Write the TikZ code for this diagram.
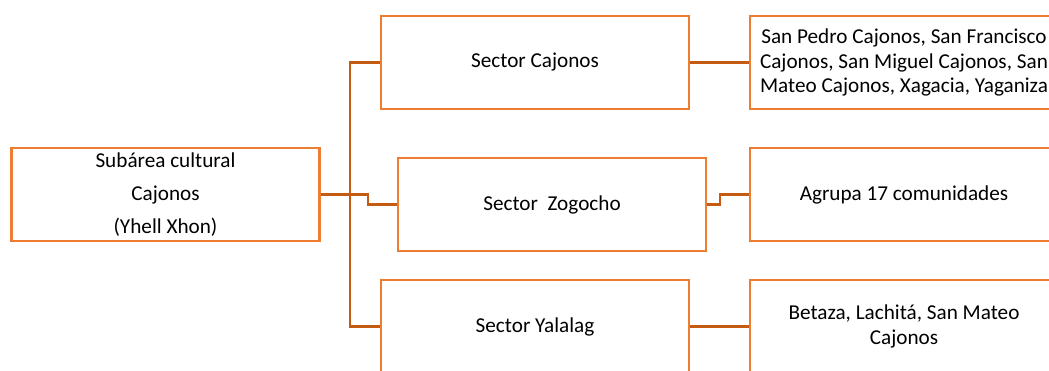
\documentclass[tikz,border=0pt]{standalone}
\usepackage{fontspec}
\setmainfont{Carlito}
\definecolor{boxorange}{HTML}{ED7D31}
\definecolor{lineorange}{HTML}{C55A11}

\begin{document}
\begin{tikzpicture}[x=0.5pt,y=-0.5pt,
    box/.style={draw=boxorange,line width=1.4pt,fill=white,minimum width=154pt,
      minimum height=46.5pt,inner sep=0pt,align=center,
      font=\fontsize{10.6}{12.4}\selectfont},
    link/.style={draw=lineorange,line width=1.1pt}]
    % Page
    \useasboundingbox (0,0) rectangle (1049,370);
    \clip (0,0) rectangle (1049,370);
    % Boxes
    \node[box,font=\fontsize{10.6}{16.5}\selectfont] (root) at (165.5,194.5)
      {Subárea cultural\\Cajonos\\(Yhell Xhon)};
    \node[box] (scaj) at (535,62.5) {Sector Cajonos};
    \node[box] (szog) at (552,204.5) {Sector\ \ Zogocho};
    \node[box] (syal) at (535,326.5) {Sector Yalalag};
    \node[box] (rcaj) at (904,62.5)
      {San Pedro Cajonos, San Francisco\\Cajonos, San Miguel Cajonos, San\\Mateo Cajonos, Xagacia, Yaganiza};
    \node[box] (rzog) at (904,194.5) {Agrupa 17 comunidades};
    \node[box] (ryal) at (904,326.5) {Betaza, Lachitá, San Mateo\\Cajonos};
    % Elbows
    \coordinate (trunk) at (350,0);
    \coordinate (jroot) at (368,0);
    \coordinate (jzog) at (720,0);
    % Links
    \draw[link] (scaj.west) -- (trunk |- scaj.west) -- (trunk |- syal.west) -- (syal.west);
    \draw[link] (root.east) -| (jroot |- szog.west) -- (szog.west);
    \draw[link] (scaj.east) -- (rcaj.west);
    \draw[link] (szog.east) -| (jzog |- rzog.west) -- (rzog.west);
    \draw[link] (syal.east) -- (ryal.west);
  \end{tikzpicture}
\end{document}
